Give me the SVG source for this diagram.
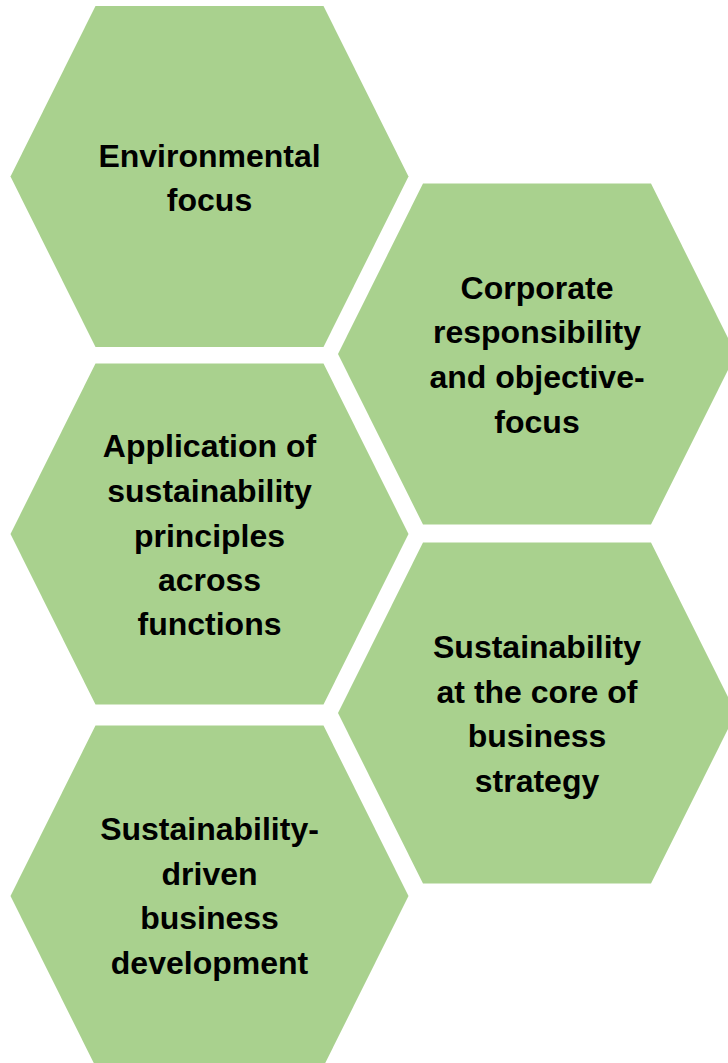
<svg xmlns="http://www.w3.org/2000/svg" width="728" height="1063" viewBox="0 0 728 1063">
  <style>
    .hex { fill: #A9D18E; }
    .label { font-family: "Liberation Sans", Arial, sans-serif; font-weight: bold; font-size: 32px; fill: #000000; text-anchor: middle; }
  </style>
  <defs>
    <!-- flat-top hexagon, 398 x 341, origin at its centre -->
    <polygon id="hexShape" points="-199,0 -114,-170.5 114,-170.5 199,0 114,170.5 -114,170.5"/>
  </defs>
  <rect width="728" height="1063" fill="#ffffff"/>

  <g id="node-environmental" transform="translate(209.5,176.5)">
    <use href="#hexShape" class="hex"/>
    <text class="label"><tspan x="0" y="-10">Environmental</tspan><tspan x="0" y="34">focus</tspan></text>
  </g>

  <g id="node-corporate" transform="translate(537,354)">
    <use href="#hexShape" class="hex"/>
    <text class="label"><tspan x="0" y="-55">Corporate</tspan><tspan x="0" y="-11">responsibility</tspan><tspan x="0" y="34">and objective-</tspan><tspan x="0" y="79">focus</tspan></text>
  </g>

  <g id="node-application" transform="translate(209.5,534)">
    <use href="#hexShape" class="hex"/>
    <text class="label"><tspan x="0" y="-77">Application of</tspan><tspan x="0" y="-32">sustainability</tspan><tspan x="0" y="13">principles</tspan><tspan x="0" y="57">across</tspan><tspan x="0" y="101">functions</tspan></text>
  </g>

  <g id="node-core-strategy" transform="translate(537,713)">
    <use href="#hexShape" class="hex"/>
    <text class="label"><tspan x="0" y="-55">Sustainability</tspan><tspan x="0" y="-10">at the core of</tspan><tspan x="0" y="34">business</tspan><tspan x="0" y="79">strategy</tspan></text>
  </g>

  <g id="node-business-development" transform="translate(209.5,896)">
    <use href="#hexShape" class="hex"/>
    <text class="label"><tspan x="0" y="-56">Sustainability-</tspan><tspan x="0" y="-11">driven</tspan><tspan x="0" y="33">business</tspan><tspan x="0" y="78">development</tspan></text>
  </g>

  <g id="connectors"/>
</svg>
